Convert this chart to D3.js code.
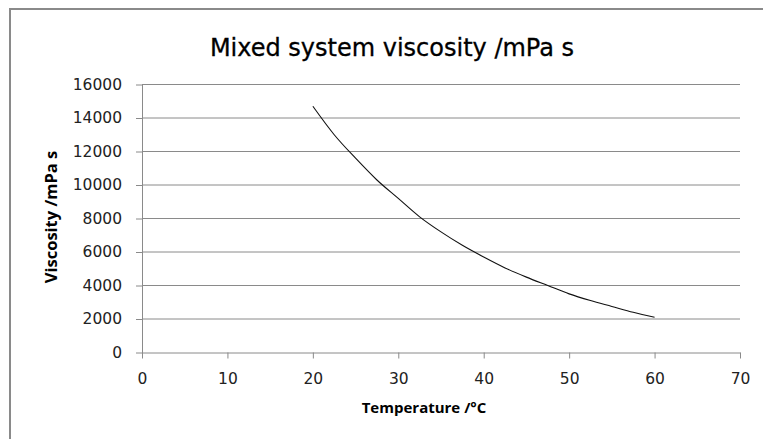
<!DOCTYPE html>
<html>
<head>
<meta charset="utf-8">
<script src="https://cdn.jsdelivr.net/npm/d3@7"></script>
<style>
  body { margin: 0; background: #fff; }
  svg { display: block; }
  .tick text { font-family: "DejaVu Sans", sans-serif; font-size: 15.5px; fill: #222; }
</style>
</head>
<body>
<svg></svg>
<script>
// temperature readings (°C) and the viscosity of the mixed system (mPa s)
const temperature = [20, 22.5, 25, 27.5, 30, 32.5, 35, 37.5, 40, 42.5, 45, 47.5, 50, 52.5, 55, 57.5, 60];
const viscosity = [14700, 13000, 11600, 10300, 9200, 8100, 7200, 6400, 5700, 5050, 4500, 4000, 3500, 3100, 2750, 2400, 2100];

const xTicks = [0, 10, 20, 30, 40, 50, 60, 70];
const yTicks = [0, 2000, 4000, 6000, 8000, 10000, 12000, 14000, 16000];

const dimensions = {
    width: 763,
    height: 439,
};
const plot = { left: 142, right: 740, top: 84.5, bottom: 352.5 };

const svg = d3.select('svg').attr('width', dimensions.width).attr('height', dimensions.height);

// chart frame (runs off the right and bottom of the picture)
svg.append('rect')
    .attr('x', 10).attr('y', 9)
    .attr('width', 800).attr('height', 500)
    .attr('fill', 'none').attr('stroke', '#8a8a8a').attr('stroke-width', 2);

const x = d3.scaleLinear().domain([0, 70]).range([plot.left, plot.right]);
const y = d3.scaleLinear().domain([0, 16000]).range([plot.bottom, plot.top]);

// horizontal gridlines
svg.append('g')
    .selectAll('line')
    .data(yTicks.filter(d => d > 0))
    .join('line')
    .attr('x1', plot.left).attr('x2', plot.right)
    .attr('y1', d => y(d)).attr('y2', d => y(d))
    .attr('stroke', '#8a8a8a').attr('stroke-width', 1);

const xAxis = svg.append('g')
    .attr('transform', `translate(0,${plot.bottom})`)
    .call(d3.axisBottom(x).tickValues(xTicks).tickSize(6).tickPadding(14).tickSizeOuter(0));

const yAxis = svg.append('g')
    .attr('transform', `translate(${plot.left},0)`)
    .call(d3.axisLeft(y).tickValues(yTicks).tickFormat(d3.format('d')).tickSize(6).tickPadding(14).tickSizeOuter(0));

[xAxis, yAxis].forEach(g => {
    g.selectAll('path, line').attr('stroke', '#8a8a8a');
});

// the viscosity curve
const points = temperature.map((t, i) => [t, viscosity[i]]);
const line = d3.line()
    .x(d => x(d[0]))
    .y(d => y(d[1]))
    .curve(d3.curveMonotoneX);

svg.append('path')
    .datum(points)
    .attr('d', line)
    .attr('fill', 'none')
    .attr('stroke', '#111')
    .attr('stroke-width', 1.1);

// titles
svg.append('text')
    .attr('x', 392).attr('y', 56)
    .attr('text-anchor', 'middle')
    .attr('font-family', '"DejaVu Sans", sans-serif')
    .attr('font-size', 24)
    .attr('fill', '#000')
    .attr('stroke', '#000').attr('stroke-width', 0.3)
    .text('Mixed system viscosity /mPa s');

svg.append('text')
    .attr('x', 424).attr('y', 413)
    .attr('text-anchor', 'middle')
    .attr('font-family', '"Open Sans", sans-serif')
    .attr('font-weight', 'bold')
    .attr('font-size', 15)
    .attr('fill', '#000')
    .text('Temperature /°C');

svg.append('text')
    .attr('transform', 'translate(57,217) rotate(-90)')
    .attr('text-anchor', 'middle')
    .attr('font-family', '"Open Sans", sans-serif')
    .attr('font-weight', 'bold')
    .attr('font-size', 16.5)
    .attr('fill', '#000')
    .text('Viscosity /mPa s');
</script>
</body>
</html>
